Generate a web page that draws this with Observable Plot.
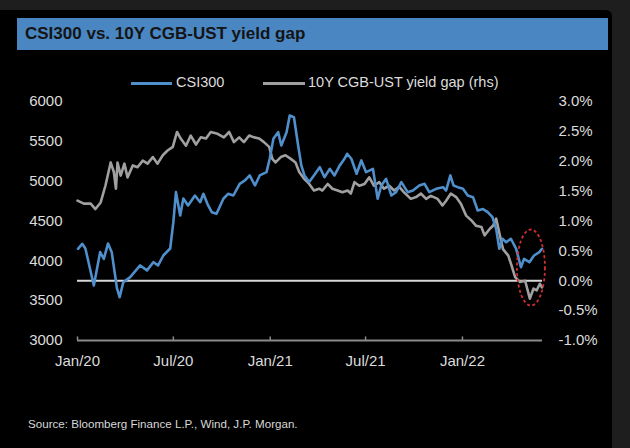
<!DOCTYPE html>
<html>
<head>
<meta charset="utf-8">
<script src="https://cdn.jsdelivr.net/npm/d3@7"></script>
<script src="https://cdn.jsdelivr.net/npm/@observablehq/plot@0.6"></script>
<style>
  html, body { margin: 0; padding: 0; background: #1e1e1e; }
  #wrap { position: relative; width: 630px; height: 448px; overflow: hidden; background: #1e1e1e; font-family: "Liberation Sans", Arial, sans-serif; }
  #panel { position: absolute; left: 0; top: 10px; width: 612px; height: 438px; background: #000; border-top-right-radius: 6px; }
  #titlebar { position: absolute; left: 17px; top: 18px; width: 591px; height: 32px; background: #4a86c2; }
  #title { position: absolute; left: 25px; top: 24px; font-size: 17px; font-weight: bold; color: #141414; white-space: nowrap; }
  #chart { position: absolute; left: 0; top: 0; }
  .leg { position: absolute; top: 74px; font-size: 14.5px; color: #dcdcdc; white-space: nowrap; }
  .sw { position: absolute; top: 82px; height: 3px; }
  #source { position: absolute; left: 28px; top: 417px; font-size: 11.6px; color: #d8d8d8; white-space: nowrap; }
</style>
</head>
<body>
<div id="wrap">
  <div id="panel"></div>
  <div id="titlebar"></div>
  <div id="title">CSI300 vs. 10Y CGB-UST yield gap</div>
  <div class="sw" style="left:131px;width:41px;background:#4f8fcc"></div>
  <div class="leg" style="left:176px">CSI300</div>
  <div class="sw" style="left:263px;width:42px;background:#a0a0a0"></div>
  <div class="leg" style="left:308px">10Y CGB-UST yield gap (rhs)</div>
  <div id="chart"></div>
  <div id="source">Source: Bloomberg Finance L.P., Wind, J.P. Morgan.</div>
</div>
<script>
// CSI300 index level (left axis)
const csiDates = ["2020-01-02","2020-01-10","2020-01-16","2020-02-01","2020-02-13","2020-02-20","2020-02-28","2020-03-06","2020-03-16","2020-03-21","2020-03-28","2020-04-10","2020-04-29","2020-05-12","2020-05-24","2020-06-02","2020-06-12","2020-06-25","2020-07-01","2020-07-06","2020-07-14","2020-07-20","2020-07-29","2020-08-11","2020-08-21","2020-08-27","2020-09-05","2020-09-12","2020-09-21","2020-10-04","2020-10-13","2020-10-23","2020-11-04","2020-11-14","2020-11-23","2020-12-03","2020-12-12","2020-12-25","2020-12-31","2021-01-07","2021-01-16","2021-01-22","2021-02-01","2021-02-07","2021-02-15","2021-02-23","2021-03-01","2021-03-07","2021-03-16","2021-03-26","2021-04-05","2021-04-14","2021-04-24","2021-05-03","2021-05-13","2021-05-22","2021-05-27","2021-06-04","2021-06-14","2021-06-23","2021-07-02","2021-07-15","2021-07-24","2021-07-31","2021-08-09","2021-08-19","2021-08-28","2021-09-07","2021-09-19","2021-09-29","2021-10-11","2021-10-21","2021-10-30","2021-11-12","2021-11-25","2021-12-01","2021-12-09","2021-12-15","2021-12-23","2022-01-02","2022-01-11","2022-01-21","2022-01-30","2022-02-09","2022-02-18","2022-02-27","2022-03-06","2022-03-12","2022-03-18","2022-03-25","2022-04-03","2022-04-13","2022-04-22","2022-04-28","2022-05-08","2022-05-17","2022-05-27","2022-06-01"];
const csiValues = [4151,4214,4155,3691,4109,4025,4218,4109,3653,3544,3732,3795,3942,3880,3983,3942,4067,4155,4485,4862,4569,4783,4695,4820,4736,4841,4695,4611,4590,4779,4841,4820,4967,5009,5072,4946,5072,5113,5281,5532,5615,5448,5615,5824,5803,5448,5197,5072,4990,5080,5176,5050,5155,5072,5197,5281,5344,5281,5093,5260,5113,5155,4779,4946,5030,4820,4862,4988,4862,4883,4946,4967,4862,4904,4925,4883,5072,4946,4925,4904,4820,4799,4632,4650,4611,4548,4402,4151,4277,4234,4277,4151,3920,4025,3983,4067,4109,4151];

// 10Y CGB-UST yield gap, % (right axis)
const gapDates = ["2020-01-01","2020-01-13","2020-01-26","2020-02-04","2020-02-14","2020-02-23","2020-03-04","2020-03-10","2020-03-14","2020-03-17","2020-03-23","2020-03-30","2020-04-05","2020-04-15","2020-04-24","2020-05-04","2020-05-13","2020-05-23","2020-06-01","2020-06-11","2020-06-20","2020-06-30","2020-07-08","2020-07-15","2020-07-25","2020-08-03","2020-08-13","2020-08-22","2020-09-01","2020-09-10","2020-09-23","2020-10-05","2020-10-15","2020-10-24","2020-11-03","2020-11-12","2020-11-22","2020-12-01","2020-12-11","2020-12-20","2020-12-30","2021-01-05","2021-01-11","2021-01-21","2021-01-30","2021-02-09","2021-02-18","2021-02-25","2021-03-06","2021-03-16","2021-03-25","2021-04-04","2021-04-10","2021-04-20","2021-04-29","2021-05-09","2021-05-18","2021-05-28","2021-06-03","2021-06-10","2021-06-19","2021-06-29","2021-07-08","2021-07-17","2021-07-27","2021-08-05","2021-08-15","2021-08-24","2021-09-03","2021-09-12","2021-09-25","2021-10-05","2021-10-14","2021-10-24","2021-11-02","2021-11-15","2021-11-24","2021-12-01","2021-12-10","2021-12-20","2021-12-29","2022-01-08","2022-01-18","2022-01-27","2022-02-06","2022-02-12","2022-02-22","2022-02-28","2022-03-06","2022-03-13","2022-03-19","2022-03-29","2022-04-04","2022-04-11","2022-04-20","2022-04-30","2022-05-09","2022-05-16","2022-05-22","2022-05-28","2022-06-01"];
const gapValues = [1.34,1.29,1.29,1.20,1.31,1.59,1.98,1.82,1.54,1.98,1.76,1.96,1.73,1.93,1.90,2.01,1.96,2.07,1.96,2.10,2.18,2.24,2.49,2.38,2.26,2.43,2.28,2.40,2.38,2.49,2.46,2.40,2.49,2.32,2.40,2.32,2.43,2.40,2.38,2.32,2.24,2.04,1.98,2.07,2.10,2.04,1.98,1.82,1.71,1.62,1.51,1.54,1.51,1.62,1.54,1.51,1.48,1.51,1.46,1.65,1.59,1.62,1.73,1.59,1.65,1.54,1.59,1.51,1.57,1.48,1.37,1.40,1.46,1.37,1.42,1.37,1.26,1.34,1.46,1.40,1.29,1.09,1.01,0.92,0.90,0.76,0.87,0.92,1.04,0.76,0.53,0.42,0.26,0.06,-0.02,0.00,-0.30,-0.13,-0.16,-0.05,-0.11];

// Axis ticks
const leftTicks = [3000,3500,4000,4500,5000,5500,6000];
const rightTicks = [-1.0,-0.5,0.0,0.5,1.0,1.5,2.0,2.5,3.0];
const xTickDates = ["2020-01-01","2020-07-01","2021-01-01","2021-07-01","2022-01-01"];
const xDomain = ["2020-01-01","2022-06-02"];

// Annotation: dashed ellipse around the latest readings
const ellipseDate = ["2022-05-12"];
const ellipseLevel = [3910];

const parse = d3.utcParse("%Y-%m-%d");
// right axis (%) mapped onto left axis units: -1%..3% <-> 3000..6000
const gapToLeft = g => 3750 + g * 750;
const leftToGap = v => (v - 3750) / 750;

const csi = csiDates.map((d, i) => ({date: parse(d), value: csiValues[i]}));
const gap = gapDates.map((d, i) => ({date: parse(d), value: gapToLeft(gapValues[i])}));
const xTicks = xTickDates.map(parse);
const ell = ellipseDate.map((d, i) => ({date: parse(d), value: ellipseLevel[i]}));

const fmtX = d3.utcFormat("%b/%y");
const font = '"Liberation Sans", Arial, sans-serif';

const chart = Plot.plot({
  width: 630,
  height: 448,
  marginLeft: 77,
  marginRight: 88,
  marginTop: 101,
  marginBottom: 108,
  style: {background: "transparent", color: "#dcdcdc", fontFamily: font, fontSize: "15px", overflow: "visible"},
  x: {type: "utc", domain: xDomain.map(parse)},
  y: {domain: [3000, 6000]},
  marks: [
    Plot.ruleY([3000], {stroke: "#8a8a8a", strokeWidth: 2}),
    Plot.ruleX(xTicks, {y1: 3000, y2: 3045, stroke: "#8a8a8a", strokeWidth: 1.5}),
    Plot.ruleY([gapToLeft(0)], {stroke: "#d8d8d8", strokeWidth: 2}),
    Plot.line(gap, {x: "date", y: "value", stroke: "#a0a0a0", strokeWidth: 2.6, curve: "linear"}),
    Plot.line(csi, {x: "date", y: "value", stroke: "#4f8fcc", strokeWidth: 2.6, curve: "linear"}),
    (index, scales) => {
      const g = d3.create("svg:g");
      for (const e of ell) {
        g.append("ellipse")
          .attr("cx", scales.x(e.date))
          .attr("cy", scales.y(e.value))
          .attr("rx", 14)
          .attr("ry", 38)
          .attr("fill", "none")
          .attr("stroke", "#d12f2f")
          .attr("stroke-width", 1.8)
          .attr("stroke-dasharray", "3,2.5");
      }
      return g.node();
    },
    Plot.axisY(leftTicks, {anchor: "left", tickSize: 0, tickPadding: 15, label: null, fill: "#dcdcdc", fontSize: 15, tickFormat: v => String(v)}),
    Plot.axisY(rightTicks.map(gapToLeft), {anchor: "right", tickSize: 0, tickPadding: 16, label: null, fill: "#dcdcdc", fontSize: 15, tickFormat: v => leftToGap(v).toFixed(1) + "%"}),
    Plot.axisX(xTicks, {anchor: "bottom", tickSize: 0, tickPadding: 15, label: null, fill: "#dcdcdc", fontSize: 15, tickFormat: fmtX})
  ]
});
document.getElementById("chart").appendChild(chart);
</script>
</body>
</html>
